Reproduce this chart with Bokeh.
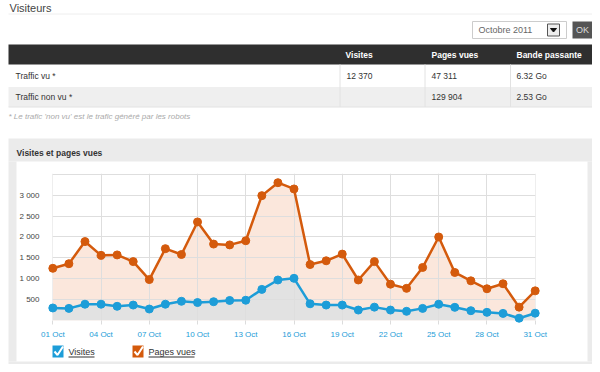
from bokeh.plotting import figure
from bokeh.models import Range1d, FixedTicker
from bokeh.core.properties import value
from bokeh.embed import file_html
from bokeh.resources import INLINE

# ---------------- data ----------------
days = list(range(1, 32))
visites = [300, 290, 390, 390, 340, 370, 275, 390, 460, 430, 450, 480, 485, 745,
           970, 1010, 400, 370, 370, 250, 320, 250, 220, 290, 390, 315, 235, 195,
           170, 55, 175]
pages_vues = [1250, 1360, 1890, 1560, 1570, 1410, 980, 1720, 1580, 2360, 1830,
              1810, 1910, 2990, 3300, 3150, 1340, 1430, 1590, 970, 1410, 870, 770,
              1270, 2000, 1150, 950, 760, 880, 320, 710]
x_ticks = [1, 4, 7, 10, 13, 16, 19, 22, 25, 28, 31]
x_tick_labels = ["01 Oct", "04 Oct", "07 Oct", "10 Oct", "13 Oct", "16 Oct",
                 "19 Oct", "22 Oct", "25 Oct", "28 Oct", "31 Oct"]
y_ticks = [500, 1000, 1500, 2000, 2500, 3000]
y_tick_labels = ["500", "1 000", "1 500", "2 000", "2 500", "3 000"]
y_grid = [500, 1000, 1500, 2000, 2500, 3000, 3500]

page_title = "Visiteurs"
table_header = ["Visites", "Pages vues", "Bande passante"]
row_labels = ["Traffic vu *", "Traffic non vu *"]
col_visites = ["12 370", ""]
col_pages = ["47 311", "129 904"]
col_bande = ["6.32 Go", "2.53 Go"]
month_label = "Octobre 2011"
footnote = "* Le trafic 'non vu' est le trafic généré par les robots"
chart_title = "Visites et pages vues"
legend_labels = ["Visites", "Pages vues"]

ORANGE = "#d45a0c"
BLUE = "#1d9dd8"
FONT = value("Liberation Sans")

# ---------------- figure ----------------
W, H = 592, 364
p = figure(width=W, height=H, x_range=Range1d(0.98, 31.02), y_range=Range1d(0, 3520),
           output_backend="svg", toolbar_location=None,
           min_border_left=52, min_border_right=W - 535, min_border_top=173,
           min_border_bottom=H - 320, outline_line_color=None,
           background_fill_color="white", border_fill_color="white")

# canvas-pixel coordinate ranges (frame spans x 52..535, y 173..320)
p.extra_x_ranges = {"px": Range1d(52, 535)}
p.extra_y_ranges = {"py": Range1d(320, 173)}

# areas
p.varea(x=days, y1=0, y2=pages_vues, fill_color="#fbe7dc", level="image")
p.varea(x=days, y1=0, y2=visites, fill_color="#e2e2e2", level="image")

# lines + markers (markers on overlay so the end points are not clipped)
p.line(days, pages_vues, line_color=ORANGE, line_width=2.5)
p.line(days, visites, line_color=BLUE, line_width=2.5)
p.scatter(days, pages_vues, size=8, fill_color=ORANGE, line_color=ORANGE, level="overlay")
p.scatter(days, visites, size=8, fill_color=BLUE, line_color=BLUE, level="overlay")

# axes
p.xaxis.ticker = FixedTicker(ticks=x_ticks)
p.xaxis.major_label_overrides = dict(zip(x_ticks, x_tick_labels))
p.xaxis.axis_line_color = None
p.xaxis.major_tick_line_color = "#dcdcdc"
p.xaxis.major_tick_out = 4
p.xaxis.major_tick_in = 0
p.xaxis.minor_tick_line_color = None
p.xaxis.major_label_text_color = BLUE
p.xaxis.major_label_text_font = "Liberation Sans"
p.xaxis.major_label_text_font_size = "8px"
p.xaxis.major_label_standoff = 5

p.yaxis.ticker = FixedTicker(ticks=y_ticks)
p.yaxis.major_label_overrides = dict(zip(y_ticks, y_tick_labels))
p.yaxis.axis_line_color = None
p.yaxis.major_tick_line_color = None
p.yaxis.minor_tick_line_color = None
p.yaxis.major_label_text_color = "#444444"
p.yaxis.major_label_text_font = "Liberation Sans"
p.yaxis.major_label_text_font_size = "8px"
p.yaxis.major_label_standoff = 7

p.xgrid.ticker = FixedTicker(ticks=x_ticks)
p.ygrid.ticker = FixedTicker(ticks=y_grid)
p.xgrid.grid_line_color = "#dedede"
p.ygrid.grid_line_color = "#dedede"


# ---------------- page decorations (canvas pixel coordinates) ----------------
def box(l, r, t, b, fill, line=None, lw=1):
    p.quad(left=[l], right=[r], top=[t], bottom=[b], fill_color=fill,
           line_color=line, line_width=lw, x_range_name="px", y_range_name="py",
           level="overlay")


def seg(x0, y0, x1, y1, color, lw=1):
    p.segment(x0=[x0], y0=[y0], x1=[x1], y1=[y1], line_color=color, line_width=lw,
              x_range_name="px", y_range_name="py", level="overlay")


def txt(x, y, s, size="9px", color="#333333", style="normal", align="left",
        baseline="middle"):
    p.text(x=[x], y=[y], text=[s], text_font=FONT, text_font_size=size,
           text_color=color, text_font_style=style, text_align=align,
           text_baseline=baseline, x_range_name="px", y_range_name="py",
           level="overlay")


# page title and its rule
txt(9, 1, page_title, "11px", "#444444", baseline="top")
seg(8, 13.5, 595, 13.5, "#eeeeee")

# month selector + OK button
box(472, 566, 21, 38, "white", "#cccccc")
txt(478, 29.5, month_label, "9px", "#666666")
box(547, 559, 23.5, 35.5, "#eeeeee", "#555555")
p.patch(x=[550, 556, 553], y=[28, 28, 31.5], fill_color="#111111",
        line_color="#111111", x_range_name="px", y_range_name="py", level="overlay")
box(572, 592, 21, 38, "#555555")
txt(582, 29.5, "OK", "9px", "#dddddd", align="center")

# table
box(8, 595, 44, 64, "#2f2f2f")
box(8, 595, 86.5, 106.5, "#efefef")
seg(8, 106.5, 595, 106.5, "#e2e2e2")
for xs in (339.5, 424.5, 510):
    seg(xs, 64, xs, 106.5, "#e2e2e2")
for x, s in zip((345, 431, 516), table_header):
    txt(x, 54, s, "8.5px", "white", "bold")
for y, lab, v, pg, b in zip((75.5, 96.5), row_labels, col_visites, col_pages, col_bande):
    txt(15, y, lab, "8.5px")
    if v:
        txt(346, y, v, "8.5px")
    txt(431, y, pg, "8.5px")
    txt(516, y, b, "8.5px")
txt(8, 116, footnote, "8px", "#aaaaaa", "italic")

# chart panel (grey frame around white inner box)
PANEL = "#ebebeb"
box(8, 594, 138, 161, PANEL)
box(8, 16, 161, 361, PANEL)
box(587, 594, 161, 361, PANEL)
box(8, 594, 361, 380, PANEL)
txt(16, 152, chart_title, "8.5px", "#333333", "bold")

# legend (checkboxes)
for (x0, col, lab, tw) in ((52, BLUE, legend_labels[0], 26), (132, ORANGE, legend_labels[1], 46)):
    box(x0, x0 + 11, 345, 357, col)
    p.line(x=[x0 + 2, x0 + 5, x0 + 10.5], y=[351, 354.5, 346], line_color="white",
           line_width=2, x_range_name="px", y_range_name="py", level="overlay")
    txt(x0 + 16, 351, lab, "9px", "#333333")
    seg(x0 + 16, 356.5, x0 + 16 + tw, 356.5, "#333333")

open("out.html", "w").write(file_html(p, INLINE))
